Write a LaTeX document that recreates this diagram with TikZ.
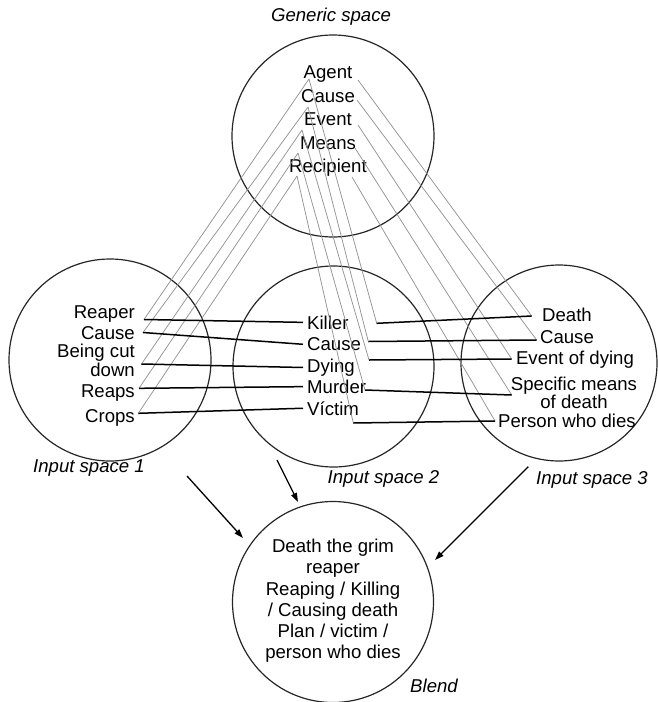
\documentclass[tikz,border=0pt]{standalone}
\usepackage{fontspec}
\setmainfont{Liberation Sans}
\usetikzlibrary{arrows.meta}
\begin{document}
\begin{tikzpicture}[x=1pt,y=-1pt,
  txt/.style={font=\fontsize{18.6}{20}\selectfont, inner sep=0pt},
  lbl/.style={font=\fontsize{18.6}{20}\selectfont\itshape, inner sep=0pt, anchor=base},
  spacecircle/.style={draw=black!85, line width=1.2pt, circle, inner sep=0pt, minimum size=#1},
  map/.style={draw=black!42, line width=0.75pt},
  link/.style={draw=black, line width=1.5pt},
  flow/.style={draw=black, line width=1.3pt, -{Triangle[length=9pt,width=6pt]}}
]
\useasboundingbox (0,0) rectangle (657,702);

% ---- the five mental spaces ----
\node[spacecircle=202] (generic) at (333,136) {};
\node[spacecircle=202] (in1) at (110,360) {};
\node[spacecircle=201] (in2) at (333.5,366.5) {};
\node[spacecircle=196] (in3) at (559,363) {};
\node[spacecircle=201] (blend) at (333,602) {};

% ---- space titles ----
\node[lbl] (tGeneric) at (331,21.7) {Generic space};
\node[lbl] (tIn1) at (89,472) {Input space 1};
\node[lbl] (tIn2) at (383.5,483.3) {Input space 2};
\node[lbl] (tIn3) at (592,484) {Input space 3};
\node[lbl] (tBlend) at (434,692.7) {Blend};

% ---- generic space roles ----
\node[txt, anchor=base] (gAgent) at (328,78.5) {Agent};
\node[txt, anchor=base] (gCause) at (328,102) {Cause};
\node[txt, anchor=base] (gEvent) at (328,125.5) {Event};
\node[txt, anchor=base] (gMeans) at (328,149) {Means};
\node[txt, anchor=base] (gRecip) at (328,172.5) {Recipient};

% ---- input space 1: reaping ----
\node[txt, anchor=base east] (aReaper) at (135,318.5) {Reaper};
\node[txt, anchor=base east] (aCause) at (135,339) {Cause};
\node[txt, anchor=north east, align=right, font=\fontsize{18.6}{19}\selectfont] (aCut) at (135,344) {Being cut\\down};
\node[txt, anchor=base east] (aReaps) at (135,397.5) {Reaps};
\node[txt, anchor=base east] (aCrops) at (135,422) {Crops};

% ---- input space 2: killing ----
\node[txt, inner xsep=4pt, anchor=base west] (bKiller) at (303,329) {Killer};
\node[txt, inner xsep=4pt, anchor=base west] (bCause) at (303,350.7) {Cause};
\node[txt, inner xsep=4pt, anchor=base west] (bDying) at (303,372.3) {Dying};
\node[txt, inner xsep=4pt, anchor=base west] (bMurder) at (303,393.3) {Murder};
\node[txt, inner xsep=4pt, anchor=base west] (bVictim) at (303,415) {Víctim};

% ---- input space 3: dying ----
\node[txt, anchor=base] (cDeath) at (567,321) {Death};
\node[txt, anchor=base] (cCause) at (567,343.3) {Cause};
\node[txt, anchor=base] (cEvent) at (575,364.3) {Event of dying};
\node[txt, anchor=north, align=center, font=\fontsize{18.6}{18.3}\selectfont] (cMeans) at (574,377) {Specific means\\of death};
\node[txt, anchor=base] (cPerson) at (567,427.3) {Person who dies};

% ---- blended space ----
\node[txt, anchor=north, align=center, font=\fontsize{18.6}{21.2}\selectfont] (bl) at (333,539)
  {Death the grim\\reaper\\Reaping / Killing\\/ Causing death\\Plan / victim /\\person who dies};

% ---- attachment points of the mappings ----
% below the generic roles (left) and after them (right)
\coordinate (gAl) at (309,79);   \coordinate (gAr) at (358,80);
\coordinate (gCl) at (308,107);  \coordinate (gCr) at (357,100);
\coordinate (gEl) at (302,130);  \coordinate (gEr) at (358,125);
\coordinate (gMl) at (298,153);  \coordinate (gMr) at (355,148);
\coordinate (gRl) at (297,176);  \coordinate (gRr) at (352,177);
% ends in input space 1
\coordinate (p1) at (144,319.5);
\coordinate (p2) at (143,332.5);
\coordinate (p3) at (141.5,364);
\coordinate (p4) at (139,388.3);
\coordinate (p5) at (138.3,413.3);
% corners in input space 2
\coordinate (q1) at (376.7,323.3);
\coordinate (q2) at (368.3,341.5);
\coordinate (q3) at (369,360);
\coordinate (q4) at (365,390);
\coordinate (q5) at (353.3,423);
% ends in input space 3
\coordinate (r1) at (531.7,316);
\coordinate (r2) at (536.7,340);
\coordinate (r3) at (511.7,359);
\coordinate (r4) at (511.7,395);
\coordinate (r5) at (495,421);

% ---- grey cross-space mappings from the generic space ----
\draw[map] (gAl) -- (p1);  \draw[map] (gAl) -- (q1);  \draw[map] (gAr) -- (r1);
\draw[map] (gCl) -- (p2);  \draw[map] (gCl) -- (q2);  \draw[map] (gCr) -- (r2);
\draw[map] (gEl) -- (p3);  \draw[map] (gEl) -- (q3);  \draw[map] (gEr) -- (r3);
\draw[map] (gMl) -- (p4);  \draw[map] (gMl) -- (q4);  \draw[map] (gMr) -- (r4);
\draw[map] (gRl) -- (p5);  \draw[map] (gRl) -- (q5);  \draw[map] (gRr) -- (r5);

% ---- black counterpart links between the inputs ----
\draw[link] (p1) -- (bKiller.west);
\draw[link] (p2) -- (bCause.west);
\draw[link] (p3) -- (bDying.west);
\draw[link] (p4) -- (bMurder.west);
\draw[link] (p5) -- (bVictim.west);
\draw[link] (q1) -- (r1);
\draw[link] (q2) -- (r2);
\draw[link] (q3) -- (r3);
\draw[link] (q4) -- (r4);
\draw[link] (q5) -- (r5);

% ---- projection into the blend ----
\coordinate (s1) at (187,476);
\coordinate (e1) at (243,538);
\coordinate (s2) at (277,460);
\coordinate (e2) at (298,502);
\coordinate (s3) at (528.3,466.7);
\coordinate (e3) at (435,560);
\draw[flow] (s1) -- (e1);
\draw[flow] (s2) -- (e2);
\draw[flow] (s3) -- (e3);
\end{tikzpicture}
\end{document}
